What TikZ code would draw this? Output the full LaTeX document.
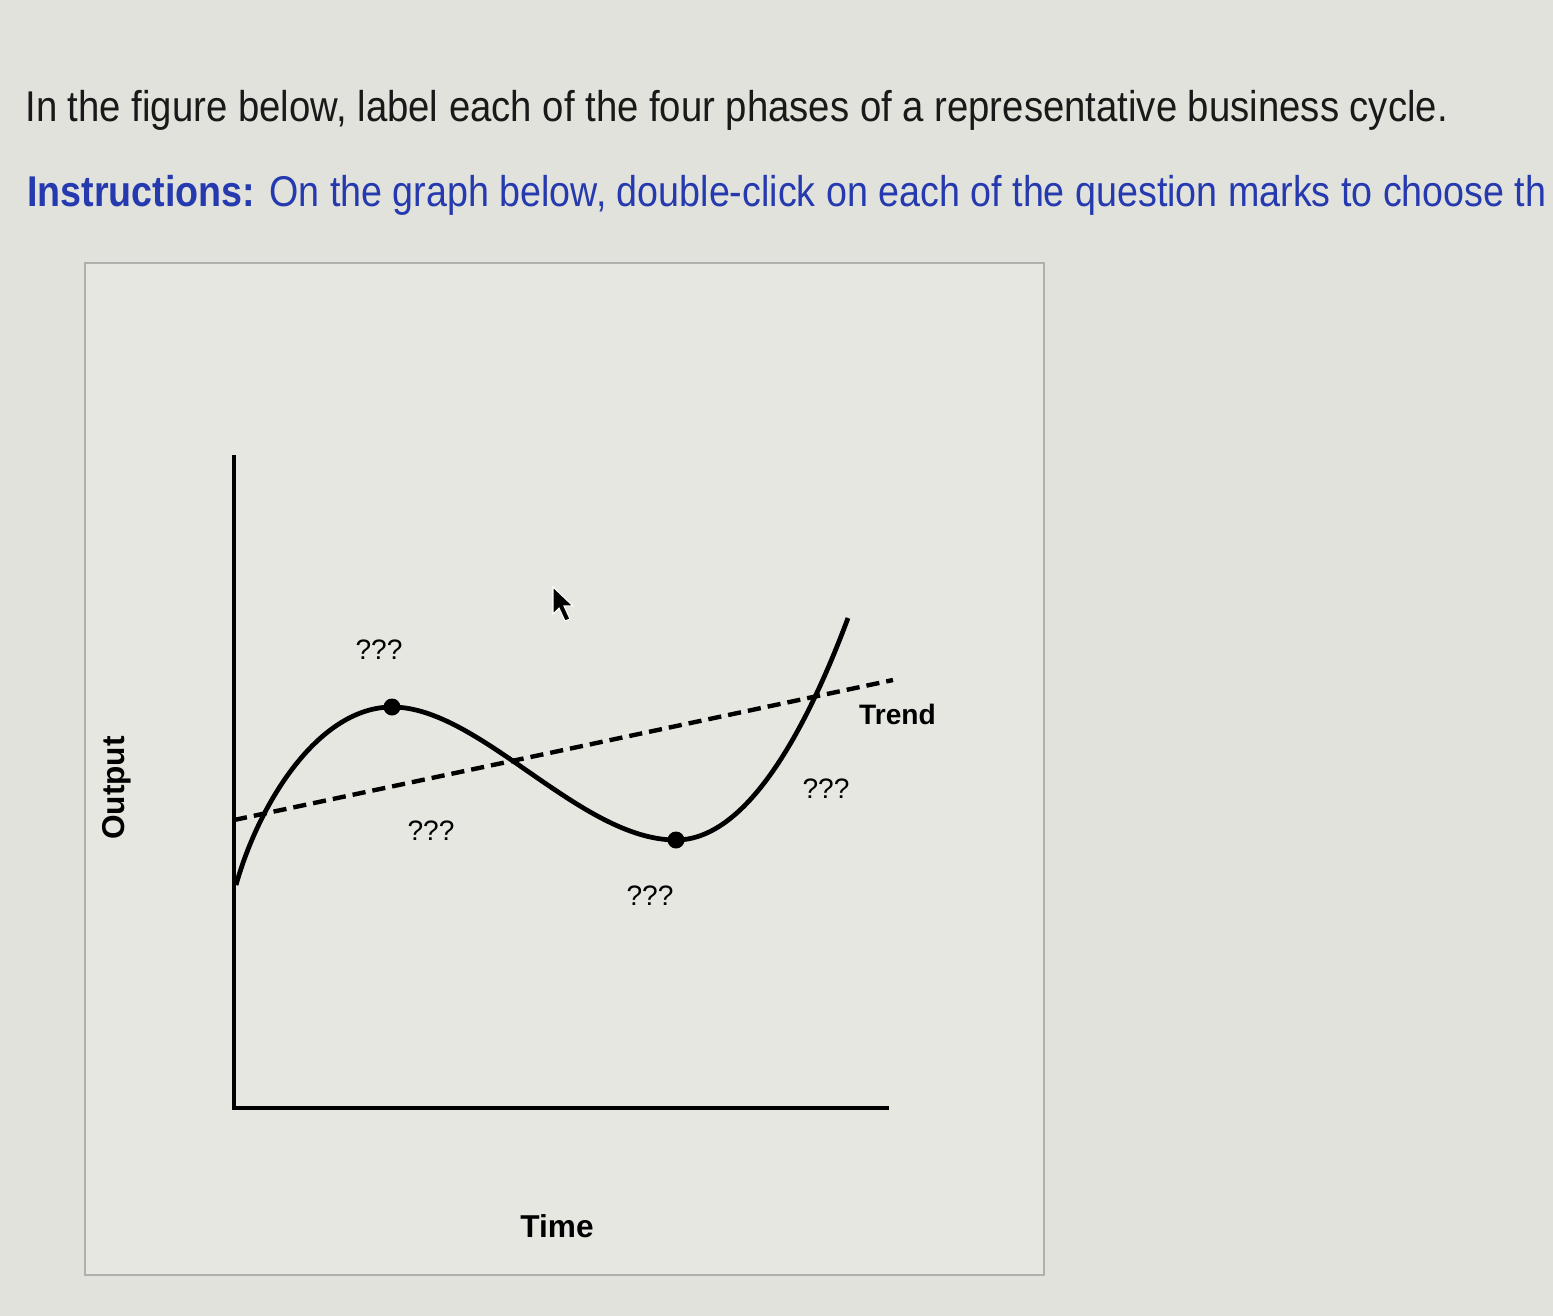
\documentclass[tikz,border=0pt]{standalone}
\usepackage{fontspec}
\setmainfont{Liberation Sans}
\newfontfamily\headfont[FakeStretch=0.89]{Liberation Sans}
\newfontfamily\instrfont[FakeStretch=0.875]{Liberation Sans}
\usetikzlibrary{positioning,calc}
\definecolor{bgcol}{RGB}{226,226,220}
\definecolor{panelcol}{RGB}{231,231,225}
\definecolor{framecol}{RGB}{175,175,172}
\definecolor{instrblue}{RGB}{38,58,175}
\tikzset{
  qlabel/.style = {font=\fontsize{16}{18}\selectfont},
  axlabel/.style = {font=\fontsize{18}{20}\selectfont\bfseries},
  cycle/.style = {line width=2.7pt},
  trend/.style = {line width=2.5pt, dash pattern=on 7.5pt off 4pt},
  axis/.style = {line width=2pt},
  turn/.style = {circle, fill=black, inner sep=0pt, minimum size=0.34cm}
}
\begin{document}
\begin{tikzpicture}[x=0.02cm,y=-0.02cm]
  \useasboundingbox (0,0) rectangle (1553,1316);
  \clip (0,0) rectangle (1553,1316);
  \fill[bgcol] (0,0) rectangle (1553,1316);
  \draw[framecol,fill=panelcol,line width=0.8pt] (85,263) rectangle (1044,1275);

  % question text
  \node[anchor=base west,inner sep=0pt,font=\headfont\fontsize{24.5}{28}\selectfont,text=black!90] (head) at (25,121)
    {In the figure below, label each of the four phases of a representative business cycle.};
  \node[anchor=base west,inner sep=0pt,font=\instrfont\fontsize{24.5}{28}\selectfont,text=instrblue] (instr) at (27,206)
    {\textbf{Instructions:} On the graph below, double-click on each of the question marks to choose th};

  % axes
  \coordinate (origin) at (234,1108);
  \coordinate (ytop) at (234,455);
  \coordinate (xend) at (889,1108);
  \draw[axis] (ytop) -- (origin) -- (xend);

  % trend line
  \coordinate (t1) at (234,820);
  \coordinate (t2) at (893,680);
  \draw[trend] (t1) -- (t2);

  % business cycle
  \node[turn] (peak) at (392,707) {};
  \node[turn] (trough) at (676,840) {};
  \coordinate (start) at (236,885);
  \coordinate (stop) at (848,618);
  \draw[cycle] (start) .. controls (260,800) and (320,707) .. (peak.center)
    .. controls (480,707) and (580,840) .. (trough.center)
    .. controls (750,840) and (810,720) .. (stop);

  % labels
  \node[qlabel] (q1) at (379,650) {???};
  \node[qlabel] (q2) at (431,831) {???};
  \node[qlabel] (q3) at (650,896) {???};
  \node[qlabel] (q4) at (826,789) {???};
  \node[axlabel,anchor=west,font=\fontsize{16}{18}\selectfont\bfseries] (trendlbl) at (853,714) {Trend};
  \node[axlabel,rotate=90] (output) at (117,788) {Output};
  \node[axlabel] (time) at (557,1226) {Time};

  % mouse pointer
  \filldraw[black,draw=white,line width=0.6pt] (553,587) -- (553,614) -- (559,608) -- (565,621)
    -- (570,619) -- (564,606) -- (573,606) -- cycle;
\end{tikzpicture}
\end{document}
